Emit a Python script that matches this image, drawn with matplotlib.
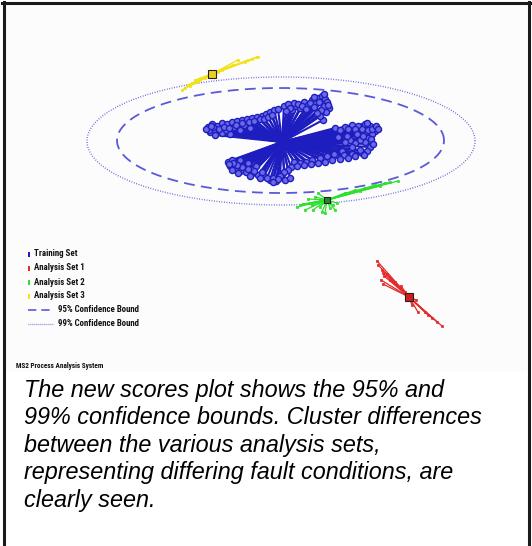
import numpy as np
import matplotlib
matplotlib.use("Agg")
import matplotlib.pyplot as plt
from matplotlib.lines import Line2D
from matplotlib import font_manager

# ---------------- data (scores t1, t2) ----------------
train_t1 = [-7.4, -7.0, -6.5, -6.0, -5.5, -5.0, -4.5, -4.0, -3.5, -3.0, -2.5, -2.0, -1.6, -1.2, -0.8, -0.4,
            -7.2, -6.7, -6.0, -5.2, -4.2, -3.2, -6.8, -5.6, -4.8, -3.8,
            -7.3, -6.9, -6.3, -5.8, -5.3, -4.6, -4.0, -3.3, -2.8, -2.2, -1.8, -1.4, -1.0, -7.6, -7.1,
            0.2, 0.6, 1.0, 1.4, 1.8, 2.2, 2.6, 3.0, 3.4, 3.6, 4.0, 4.3, 4.5, 4.7, 4.4, 4.1, 3.8,
            0.8, 1.2, 1.6, 2.0, 2.4, 2.8, 3.2, 3.7, 4.2, 4.6, 3.9, 3.5, 0.4, 3.2, 4.2,
            5.3, 6.3, 7.0, 7.6, 8.3, 8.8, 9.2, 9.3, 9.0, 8.6, 8.3, 7.8, 7.3, 6.8, 6.3, 8.8, 8.5, 8.0,
            5.8, 6.6, 7.3, 8.0, 8.6, 9.0, 7.5, 6.5, 5.6, 8.1, 7.0, 7.8, 6.0, 5.2, 4.5, 8.9, 9.1, 8.2,
            7.0, 6.2, 3.8, 3.0, 2.4, 1.8, 1.2, 8.5, 9.4, 9.6,
            7.3, 6.6, 5.8, 5.0, 4.3, 3.6, 2.9, 2.2, 1.5, 0.9, 0.6, 0.2, -0.2, -0.6, -1.2,
            -1.8, -2.4, -3.0, -3.6, -4.2, -4.7, -5.2, -5.4, -5.0, -4.2, -3.4, -2.6,
            -2.0, -2.8, -3.4, -4.0, -4.5, -4.9, -5.3, -1.5, -0.9, -0.4, -2.2, -3.2, -4.4, -5.0,
            -0.9, 0.3, 0.8]
train_t2 = [1.5, 1.8, 1.6, 1.9, 1.8, 2.0, 2.1, 2.2, 2.3, 2.4, 2.5, 2.6, 2.8, 3.0, 3.2, 3.3,
            1.0, 0.7, 0.9, 0.8, 1.2, 1.4, 1.3, 1.2, 1.5, 1.7,
            1.2, 1.5, 1.3, 1.5, 1.4, 1.7, 1.9, 2.0, 2.1, 2.3, 2.3, 2.5, 2.7, 1.3, 1.6,
            3.6, 3.8, 3.2, 3.6, 3.4, 4.0, 3.7, 4.2, 3.9, 4.4, 4.6, 4.3, 4.0, 3.4, 3.0, 2.2, 2.6,
            3.4, 3.9, 3.8, 3.6, 3.3, 3.9, 3.5, 4.0, 3.6, 3.7, 3.2, 2.9, 3.1, 4.5, 4.8,
            1.4, 1.5, 1.7, 1.6, 1.8, 1.6, 1.4, 1.1, 0.8, 0.4, 0.0, 0.2, -0.1, 0.2, 0.0, -0.5, -0.9, -1.1,
            1.2, 1.3, 1.3, 1.3, 1.2, 1.3, 0.8, 0.6, 0.5, 0.6, -0.5, -0.8, -0.9, -1.2, -1.4, 0.3, -0.2, -1.3,
            -1.2, -1.3, -1.6, -1.8, -2.0, -2.1, -2.0, 1.9, 1.6, 1.3,
            -1.4, -1.6, -1.7, -1.8, -2.0, -2.1, -2.2, -2.3, -2.4, -2.5, -2.8, -3.0, -3.4, -3.9, -3.8,
            -3.4, -3.3, -3.1, -3.0, -2.9, -2.6, -2.4, -2.0, -1.8, -1.8, -2.1, -2.4,
            -3.0, -2.9, -2.7, -2.5, -2.3, -2.1, -2.2, -3.6, -3.6, -3.7, -3.6, -3.4, -3.1, -2.8,
            -4.0, -3.8, -3.6]
train_center = (0.0, 0.0)

set1_t1 = [9.5, 9.6, 10.0, 10.1, 10.2, 9.9, 10.1, 10.5, 10.8, 11.3, 11.9, 13.0, 13.6, 14.6, 15.0, 15.5, 16.0, 14.3, 12.3, 13.4]
set1_t2 = [-11.9, -12.3, -12.8, -13.1, -13.4, -13.8, -14.2, -13.2, -13.8, -14.0, -14.4, -16.3, -17.0, -17.3, -17.6, -18.0, -18.4, -17.0, -15.0, -15.8]
set1_center = (12.7, -15.5)

set2_t1 = [1.5, 1.8, 2.3, 2.8, 3.1, 3.3, 3.6, 3.8, 4.0, 4.3, 4.8, 5.1, 5.3, 5.5, 3.8, 3.0, 2.6, 2.1,
           6.3, 7.3, 8.3, 9.3, 10.3, 11.6, 10.8, 9.8, 7.8]
set2_t2 = [-6.5, -6.3, -6.8, -6.1, -6.8, -5.5, -5.1, -6.5, -7.0, -7.1, -6.6, -6.3, -6.8, -6.1, -5.8, -6.3, -5.7, -6.2,
           -5.1, -4.8, -4.6, -4.3, -4.1, -3.9, -4.0, -4.4, -4.9]
set2_center = (4.5, -5.8)

set3_t1 = [-10.0, -9.7, -9.4, -9.0, -8.7, -8.2, -7.7, -9.2, -8.5, -2.5, -3.0, -3.4, -3.7, -4.9, -5.7, -6.0, -6.4, -4.4, -2.4]
set3_t2 = [5.2, 5.4, 5.7, 5.9, 6.2, 6.2, 6.4, 5.6, 6.0, 8.5, 8.3, 8.2, 8.0, 7.7, 7.4, 7.2, 7.0, 8.2, 8.5]
set3_center = (-7.0, 6.8)

# confidence ellipses: (center t1, center t2, semi-axis t1, semi-axis t2)
bound95 = (-0.15, 0.15, 16.35, 5.25)
bound99 = (-0.1, 0.1, 19.4, 6.4)

legend_labels = ["Training Set", "Analysis Set 1", "Analysis Set 2", "Analysis Set 3",
                 "95% Confidence Bound", "99% Confidence Bound"]
footer_label = "MS2 Process Analysis System"
caption_lines = ["The new scores plot shows the 95% and",
                 "99% confidence bounds. Cluster differences",
                 "between the various analysis sets,",
                 "representing differing fault conditions, are",
                 "clearly seen."]

# ---------------- style ----------------
W, H = 532, 546
BLUE = "#1e1ec0"
BOUND = "#5a5ad8"
RED = "#e42a2a"
GREEN = "#2ee02e"
YELLOW = "#f2e21a"

installed = {f.name for f in font_manager.fontManager.ttflist}
narrow_cands = ["Liberation Sans Narrow", "DejaVu Sans Condensed", "Roboto Condensed", "Open Sans Condensed"]
narrow = [n for n in narrow_cands if n in installed]
if narrow:
    NARROW = [narrow[0], "DejaVu Sans"]
    leg_fs, foot_fs, leg_w = 6.4, 5.2, "bold"
else:
    NARROW = ["DejaVu Sans"]
    leg_fs, foot_fs, leg_w = 5.2, 4.6, "bold"

fig = plt.figure(figsize=(W / 100, H / 100), dpi=100)
fig.patch.set_facecolor("white")

def fx(px):
    return px / W

def fy(py):
    return 1 - py / H

ax = fig.add_axes([fx(5), fy(372), fx(522), 367 / H])
ax.set_xlim(-27.7, 24.5)
ax.set_ylim(-23.0, 13.7)
for s in ax.spines.values():
    s.set_visible(False)
ax.set_xticks([])
ax.set_yticks([])
ax.set_facecolor("#fcfcfc")

theta = np.linspace(0, 2 * np.pi, 400)
for (cx, cy, a, b), ls, lw in [(bound95, (0, (6, 3.5)), 1.3), (bound99, (0, (0.6, 1.2)), 1.0)]:
    ax.plot(cx + a * np.cos(theta), cy + b * np.sin(theta), color=BOUND, ls=ls, lw=lw, zorder=1)

def star(t1, t2, center, color, lw, marker, ms, mfc, mec, mew, cmark_color, cms, z):
    for x, y in zip(t1, t2):
        ax.plot([center[0], x], [center[1], y], color=color, lw=lw, zorder=z)
    ax.plot(t1, t2, ls="none", marker=marker, ms=ms, mfc=mfc, mec=mec, mew=mew, zorder=z + 0.1)
    if cmark_color is not None:
        ax.plot([center[0]], [center[1]], marker="s", ms=cms, mfc=cmark_color, mec="#222222",
                mew=0.8, zorder=z + 0.2)

star(train_t1, train_t2, train_center, BLUE, 1.5, "o", 4.4, "#6a6ae4", BLUE, 1.0, None, 0, 2)
star(set1_t1, set1_t2, set1_center, RED, 0.9, "s", 2.0, RED, RED, 0.5, "#d01c1c", 6, 3)
star(set2_t1, set2_t2, set2_center, GREEN, 0.9, "s", 2.0, GREEN, GREEN, 0.5, "#1e8c1e", 5, 3)
star(set3_t1, set3_t2, set3_center, YELLOW, 1.0, "s", 2.0, YELLOW, YELLOW, 0.5, "#e8d020", 5.5, 3)

# ---------------- legend ----------------
leg_y = [254, 268, 282, 296, 310, 324]
leg_colors = [BLUE, RED, GREEN, YELLOW]
for i, lab in enumerate(legend_labels):
    y = leg_y[i]
    if i < 4:
        fig.add_artist(plt.Rectangle((fx(27.5), fy(y + 2.5)), 2.2 / W, 5 / H, transform=fig.transFigure,
                                     facecolor=leg_colors[i], edgecolor="none"))
        tx = 34
    else:
        ls = (0, (5, 3)) if i == 4 else (0, (0.6, 1.0))
        fig.add_artist(Line2D([fx(28), fx(53)], [fy(y), fy(y)], color=BOUND, ls=ls, lw=1.2 if i == 4 else 0.9,
                              transform=fig.transFigure))
        tx = 58
    fig.text(fx(tx), fy(y), lab, family=NARROW, fontsize=leg_fs, weight=leg_w, color="#111111",
             va="center", ha="left")

fig.text(fx(16), fy(366), footer_label, family=NARROW, fontsize=foot_fs, weight=leg_w, color="#111111",
         va="center", ha="left")

# ---------------- caption ----------------
base = [397, 424.5, 452, 479.5, 507]
for yb, line in zip(base, caption_lines):
    fig.text(fx(24), fy(yb), line, family=["Liberation Sans", "DejaVu Sans"], style="italic",
             fontsize=16.8, color="black", va="baseline", ha="left")

# ---------------- frame ----------------
fc = "#1a1a1a"
fig.add_artist(Line2D([fx(3.5), fx(3.5)], [fy(2), fy(546)], color=fc, lw=2.2, transform=fig.transFigure))
fig.add_artist(Line2D([fx(2.4), fx(530.5)], [fy(3.3), fy(3.3)], color=fc, lw=2.2, transform=fig.transFigure))
fig.add_artist(Line2D([fx(529.3), fx(529.3)], [fy(2), fy(546)], color=fc, lw=2.2, transform=fig.transFigure))

fig.savefig("out.png", dpi=100)
